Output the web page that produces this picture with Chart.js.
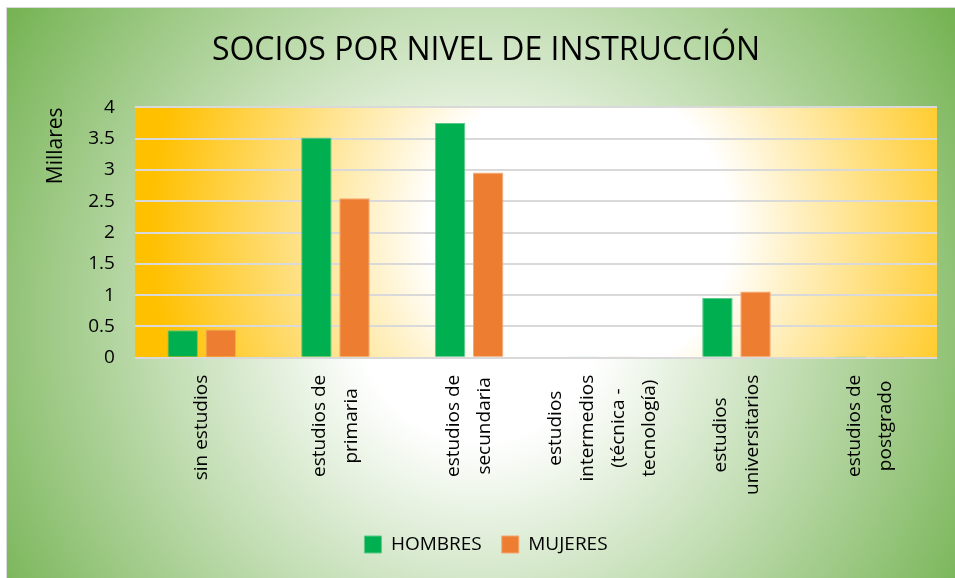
<!DOCTYPE html>
<html>
<head>
<meta charset="utf-8">
<script src="https://cdn.jsdelivr.net/npm/chart.js@4/dist/chart.umd.min.js"></script>
<style>
  html, body { margin: 0; padding: 0; background: #fff; }
  #wrap { width: 955px; height: 578px; }
</style>
</head>
<body>
<div id="wrap"><canvas id="grafico" width="955" height="578"></canvas></div>
<script>
"use strict";

// categorías (niveles de instrucción)
const categorias = [
  "sin estudios",
  ["estudios de", "primaria"],
  ["estudios de", "secundaria"],
  ["estudios", "intermedios", "(técnica -", "tecnología)"],
  ["estudios", "universitarios"],
  ["estudios de", "postgrado"]
];
// valores en millares
const hombres = [0.44, 3.52, 3.75, 0.02, 0.955, 0.005];
const mujeres = [0.45, 2.55, 2.96, 0.01, 1.06, 0.004];
const ticksY = [0, 0.5, 1, 1.5, 2, 2.5, 3, 3.5, 4];

const fuente = "'Open Sans', 'Liberation Sans', sans-serif";

// fondo verde del gráfico y fondo naranja del área de trazado
const fondo = {
  id: 'fondo',
  beforeDraw(chart) {
    const ctx = chart.ctx;
    const a = chart.chartArea;
    ctx.save();
    ctx.fillStyle = '#ffffff';
    ctx.fillRect(0, 0, chart.width, chart.height);

    let g = ctx.createRadialGradient(480, 320, 0, 480, 320, 600);
    g.addColorStop(0, '#ffffff');
    g.addColorStop(0.2, '#ffffff');
    g.addColorStop(1, '#6aad45');
    ctx.fillStyle = g;
    ctx.fillRect(7, 8, chart.width - 7, chart.height - 8);
    ctx.strokeStyle = '#d9d9d9';
    ctx.lineWidth = 1;
    ctx.strokeRect(6.5, 7.5, chart.width, chart.height);

    let g2 = ctx.createRadialGradient(580, 230, 0, 580, 230, 430);
    g2.addColorStop(0, '#ffffff');
    g2.addColorStop(0.35, '#ffffff');
    g2.addColorStop(1, '#ffc000');
    ctx.fillStyle = g2;
    ctx.fillRect(a.left, a.top, a.right - a.left, a.bottom - a.top);
    ctx.restore();
  }
};

// centrar las líneas de las etiquetas giradas del eje x
const centrarEtiquetas = {
  id: 'centrarEtiquetas',
  afterUpdate(chart) {
    const s = chart.scales.x;
    const ctx = chart.ctx;
    const items = s.getLabelItems(chart.chartArea);
    ctx.save();
    for (const it of items) {
      const lineas = Array.isArray(it.label) ? it.label : [it.label];
      ctx.font = it.font.string;
      const maxW = Math.max(...lineas.map(t => ctx.measureText(t).width));
      it.textOffset -= (lineas.length - 1) * it.font.lineHeight / 2;
      it.options.textAlign = 'center';
      it.options.translation = [it.options.translation[0], it.options.translation[1] + maxW / 2];
    }
    ctx.restore();
  }
};

new Chart(document.getElementById('grafico').getContext('2d'), {
  type: 'bar',
  data: {
    labels: categorias,
    datasets: [
      {
        label: 'HOMBRES',
        data: hombres,
        backgroundColor: '#00b050',
        borderColor: '#5cc98a',
        borderWidth: 1,
        barPercentage: 0.8,
        categoryPercentage: 0.57
      },
      {
        label: 'MUJERES',
        data: mujeres,
        backgroundColor: '#ed7d31',
        borderColor: '#f4a774',
        borderWidth: 1,
        barPercentage: 0.8,
        categoryPercentage: 0.57
      }
    ]
  },
  options: {
    responsive: false,
    animation: false,
    layout: { padding: { left: 35, right: 18, top: 16, bottom: 14 } },
    plugins: {
      title: {
        display: true,
        text: 'SOCIOS POR NIVEL DE INSTRUCCIÓN',
        color: '#000',
        font: { family: fuente, size: 32, weight: 'normal' },
        padding: { top: 16, bottom: 37 }
      },
      legend: {
        position: 'bottom',
        labels: {
          color: '#000',
          font: { family: fuente, size: 19 },
          boxWidth: 17,
          boxHeight: 17,
          padding: 20
        }
      },
      tooltip: { enabled: false }
    },
    scales: {
      x: {
        grid: { display: false },
        border: { display: false },
        afterFit(scale) {
          scale.height += 11;
        },
        ticks: {
          color: '#000',
          font: { family: fuente, size: 19, lineHeight: 1.65 },
          minRotation: 90,
          maxRotation: 90,
          padding: 9,
          autoSkip: false
        }
      },
      y: {
        min: 0,
        max: 4,
        afterBuildTicks(scale) {
          scale.ticks = ticksY.map(v => ({ value: v }));
        },
        grid: { color: '#d9d9d9', lineWidth: 2, drawTicks: false },
        border: { display: false },
        ticks: {
          color: '#000',
          font: { family: fuente, size: 19 },
          padding: 20,
          callback: v => String(v)
        },
        title: {
          display: true,
          text: 'Millares',
          align: 'end',
          color: '#000',
          font: { family: fuente, size: 21 },
          padding: { top: 8, bottom: 0 }
        }
      }
    }
  },
  plugins: [fondo, centrarEtiquetas]
});
</script>
</body>
</html>
